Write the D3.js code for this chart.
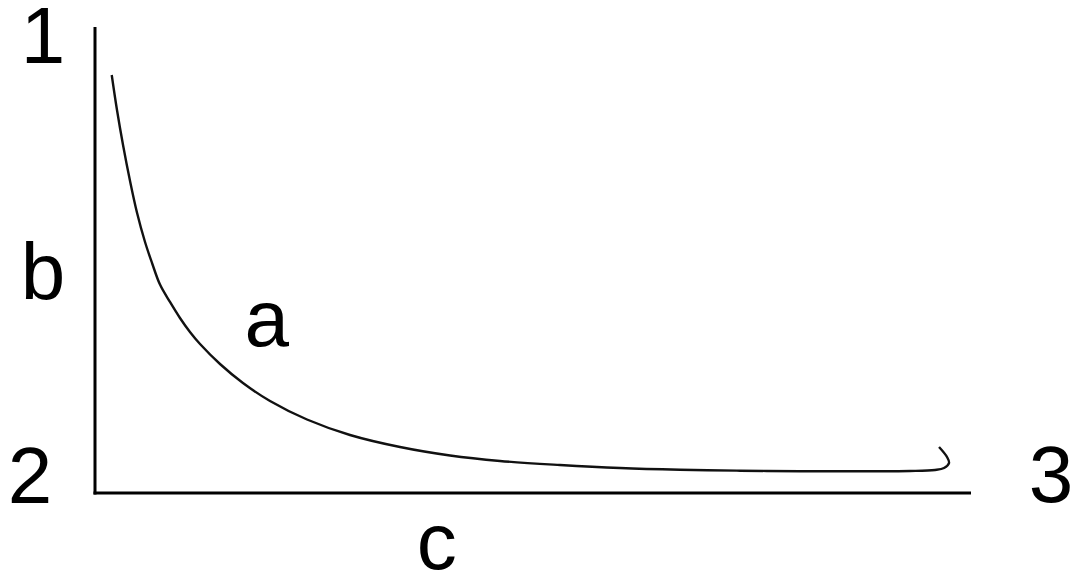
<!DOCTYPE html>
<html>
<head>
<meta charset="utf-8">
<script src="https://cdn.jsdelivr.net/npm/d3@7"></script>
<style>
  html, body { margin: 0; padding: 0; background: #fff; }
  svg { display: block; }
  text { font-family: "Liberation Sans", Arial, sans-serif; fill: #000; }
</style>
</head>
<body>
<svg id="chart" width="1079" height="580"></svg>
<script>
// ---- data ----
const curveX = [1.91, 2.51, 3.20, 4.00, 4.79, 5.71, 6.51, 7.42, 8.56, 9.70, 10.84, 11.99, 14.27, 16.89, 19.98, 24.20, 29.11, 34.82, 40.53, 46.23, 53.08, 59.93, 66.78, 73.63, 80.48, 87.33, 93.04, 95.89, 96.92, 97.49, 97.26, 96.35];
const curveY = [89.70, 82.19, 74.68, 66.95, 60.19, 53.86, 49.36, 44.72, 40.99, 37.55, 34.55, 31.97, 27.68, 23.61, 19.74, 15.77, 12.45, 9.87, 8.05, 6.87, 6.01, 5.36, 4.99, 4.79, 4.68, 4.68, 4.72, 4.94, 5.36, 6.44, 7.73, 9.87];
const tickLabels = ["1", "2", "3"];   // y-axis top, origin, x-axis end
const curveLabel = "a";
const yTitle = "b";
const xTitle = "c";

// ---- layout ----
const svg = d3.select("#chart");
const x = d3.scaleLinear().domain([0, 100]).range([95, 971]);
const y = d3.scaleLinear().domain([0, 100]).range([493, 27]);

// axes
const axisG = svg.append("g");
axisG.append("g")
  .attr("transform", `translate(0,${y(0)})`)
  .call(d3.axisBottom(x).tickValues([]).tickSizeOuter(0))
  .call(g => g.select(".domain").attr("stroke", "#000").attr("stroke-width", 3)
    .attr("d", `M${x(0) - 1.5},0H${x(100)}`));
axisG.append("g")
  .attr("transform", `translate(${x(0)},0)`)
  .call(d3.axisLeft(y).tickValues([]).tickSizeOuter(0))
  .call(g => g.select(".domain").attr("stroke", "#000").attr("stroke-width", 3)
    .attr("d", `M0,${y(0) + 1.5}V${y(100)}`));

// curve
const pts = curveX.map((v, i) => [v, curveY[i]]);
const line = d3.line()
  .x(d => x(d[0]))
  .y(d => y(d[1]))
  .curve(d3.curveCatmullRom.alpha(0.5));
svg.append("path")
  .datum(pts)
  .attr("d", line)
  .attr("fill", "none")
  .attr("stroke", "#111")
  .attr("stroke-width", 2.4)
  .attr("stroke-linejoin", "round");

// labels
const fs = 80;
const txt = (s, px, py) => svg.append("text")
  .attr("x", px).attr("y", py)
  .attr("text-anchor", "middle")
  .attr("font-size", fs)
  .text(s);

txt(tickLabels[0], x(0) - 52, y(100) + 36);
txt(tickLabels[1], x(0) - 65, y(0) + 10);
txt(tickLabels[2], x(100) + 80, y(0) + 9);
txt(yTitle, x(0) - 52, y(42) + 2);
txt(xTitle, x(39), y(0) + 76);
txt(curveLabel, x(19.6), y(31.5));
</script>
</body>
</html>
